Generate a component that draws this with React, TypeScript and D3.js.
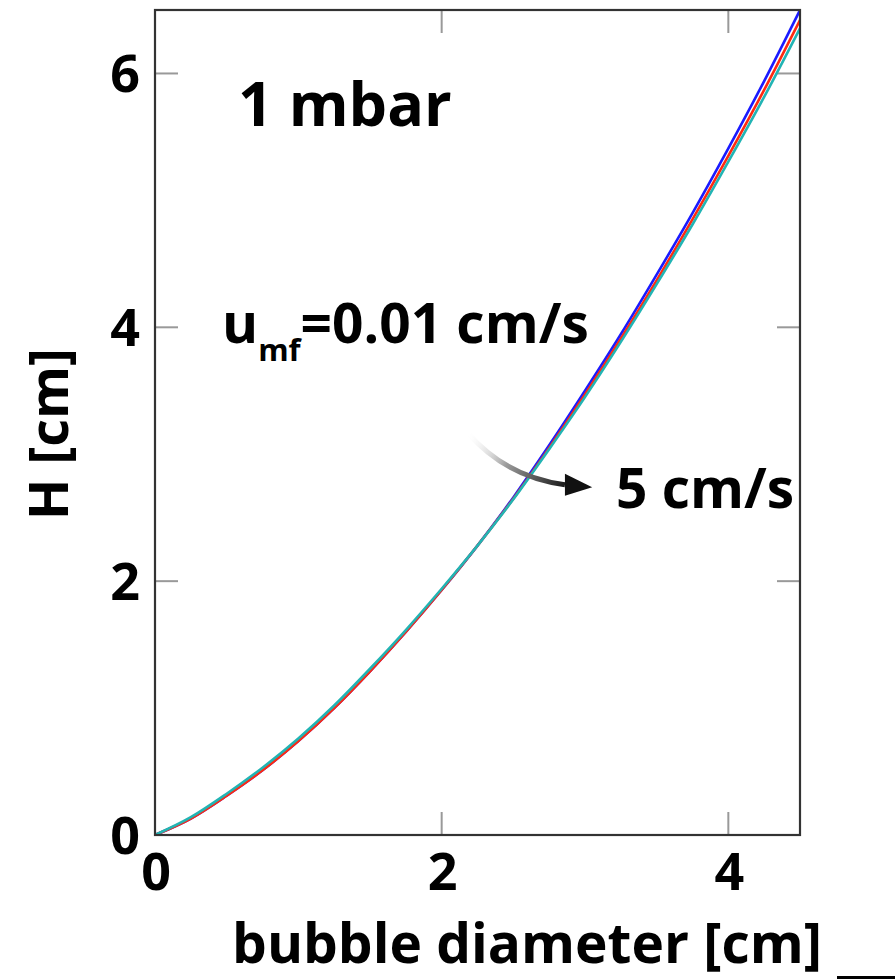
import React from "react";
import * as d3 from "d3";

const diameters = [0, 0.25, 0.5, 0.75, 1.0, 1.25, 1.5, 1.75, 2.0, 2.25, 2.5, 2.75, 3.0, 3.25, 3.5, 3.75, 4.0, 4.25, 4.5];
const hBlue = [0, 0.13, 0.31, 0.51, 0.74, 1.0, 1.29, 1.6, 1.93, 2.28, 2.66, 3.07, 3.5, 3.945, 4.415, 4.9, 5.41, 5.94, 6.5];
const hRed = [0, 0.13, 0.31, 0.51, 0.74, 1.0, 1.29, 1.6, 1.93, 2.28, 2.65, 3.05, 3.47, 3.91, 4.37, 4.85, 5.35, 5.87, 6.42];
const hCyan = [0, 0.14, 0.325, 0.53, 0.76, 1.02, 1.31, 1.615, 1.94, 2.28, 2.645, 3.04, 3.45, 3.885, 4.34, 4.81, 5.305, 5.815, 6.355];
const xTicks = [0, 2, 4];
const yTicks = [0, 2, 4, 6];

const W = 896;
const H = 979;
const FONT = "'Open Sans', 'Noto Sans', sans-serif";

export default function App() {
  const x = d3.scaleLinear().domain([0, 4.5]).range([155, 800]);
  const y = d3.scaleLinear().domain([0, 6.5]).range([835, 10]);
  const line = d3
    .line<number>()
    .x((_, i) => x(diameters[i]))
    .y((v) => y(v))
    .curve(d3.curveMonotoneX);

  const series = [
    { vals: hBlue, color: "#1a1aff" },
    { vals: hRed, color: "#ff2a10" },
    { vals: hCyan, color: "#22b4b4" },
  ];

  const [x0, x1] = x.range();
  const [y0, y1] = y.range();

  // arrow annotation in data units
  const aStart: [number, number] = [2.18, 3.17];
  const aCtrl: [number, number] = [2.45, 2.82];
  const aEnd: [number, number] = [2.86, 2.76];
  const aTip: [number, number] = [3.05, 2.74];
  const ex = x(aEnd[0]);
  const ey = y(aEnd[1]);
  const tx = x(aTip[0]);
  const ty = y(aTip[1]);

  return (
    <svg
      width={W}
      height={H}
      style={{ position: "absolute", left: 0, top: 0, background: "#fff" }}
      fontFamily={FONT}
    >
      <defs>
        <clipPath id="plot">
          <rect x={x0} y={y1} width={x1 - x0} height={y0 - y1} />
        </clipPath>
        <linearGradient id="arrowGrad" gradientUnits="userSpaceOnUse" x1={x(aStart[0])} y1={y(aStart[1])} x2={ex} y2={ey}>
          <stop offset="0" stopColor="#ffffff" stopOpacity="0" />
          <stop offset="0.45" stopColor="#9a9a9a" />
          <stop offset="1" stopColor="#1a1a1a" />
        </linearGradient>
      </defs>
      <rect x={0} y={0} width={W} height={H} fill="#fff" />

      {/* ticks on all four sides */}
      <g stroke="#999" strokeWidth={2}>
        {xTicks.filter((t) => t > 0).map((t) => (
          <g key={"xt" + t}>
            <line x1={x(t)} x2={x(t)} y1={y0} y2={y0 - 23} />
            <line x1={x(t)} x2={x(t)} y1={y1} y2={y1 + 23} />
          </g>
        ))}
        {yTicks.filter((t) => t > 0).map((t) => (
          <g key={"yt" + t}>
            <line x1={x0} x2={x0 + 23} y1={y(t)} y2={y(t)} />
            <line x1={x1} x2={x1 - 23} y1={y(t)} y2={y(t)} />
          </g>
        ))}
      </g>

      {/* curves */}
      <g clipPath="url(#plot)" fill="none" strokeWidth={2.6}>
        {series.map((s, i) => (
          <path key={i} d={line(s.vals) || ""} stroke={s.color} />
        ))}
      </g>

      {/* frame */}
      <rect x={x0} y={y1} width={x1 - x0} height={y0 - y1} fill="none" stroke="#333" strokeWidth={2.2} />

      {/* tick labels */}
      <g fontWeight="bold" fontSize={52} fill="#000">
        {yTicks.map((t) => (
          <text key={"yl" + t} x={140} y={y(t) + 19} textAnchor="end">
            {t}
          </text>
        ))}
        {xTicks.map((t) => (
          <text key={"xl" + t} x={x(t) + 1} y={890} textAnchor="middle">
            {t}
          </text>
        ))}
      </g>

      {/* axis titles */}
      <text x={527} y={963} textAnchor="middle" fontWeight="bold" fontSize={55} fill="#000">
        bubble diameter [cm]
      </text>
      <text
        transform={`translate(68, ${434}) rotate(-90)`}
        textAnchor="middle"
        fontWeight="bold"
        fontSize={54}
        fill="#000"
      >
        H [cm]
      </text>

      {/* annotations */}
      <text x={238} y={126} fontWeight="bold" fontSize={61} fill="#000">
        1 mbar
      </text>
      <text x={222} y={343} fontWeight="bold" fontSize={55} fill="#000">
        u
        <tspan fontSize={31} dy={18}>mf</tspan>
        <tspan fontSize={55} dy={-18}>=0.01 cm/s</tspan>
      </text>
      <text x={616} y={508} fontWeight="bold" fontSize={55} fill="#000">
        5 cm/s
      </text>

      {/* curved arrow */}
      <path
        d={`M${x(aStart[0])},${y(aStart[1])} Q${x(aCtrl[0])},${y(aCtrl[1])} ${ex},${ey}`}
        fill="none"
        stroke="url(#arrowGrad)"
        strokeWidth={5}
      />
      <path d={`M${ex},${ey - 11} L${tx},${ty} L${ex},${ey + 11} Z`} fill="#111" />

      {/* small bar bottom right */}
      <rect x={837} y={976} width={58} height={3} fill="#000" />
    </svg>
  );
}
